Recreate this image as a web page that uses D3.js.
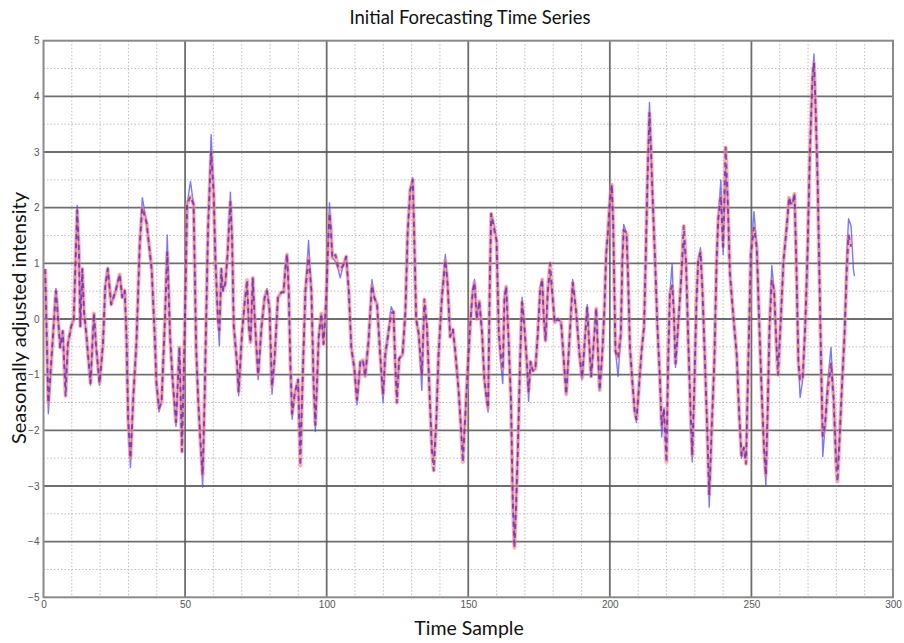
<!DOCTYPE html>
<html><head><meta charset="utf-8">
<script src="https://cdn.jsdelivr.net/npm/d3@7"></script>
<style>
html,body{margin:0;padding:0;background:#fff;}
svg{display:block;}
</style></head>
<body>
<svg id="chart" width="904" height="643"></svg>
<script>
const title = "Initial Forecasting Time Series";
const xLabel = "Time Sample";
const yLabel = "Seasonally adjusted intensity";
const xTicks = [0, 50, 100, 150, 200, 250, 300];
const yTicks = [-5, -4, -3, -2, -1, 0, 1, 2, 3, 4, 5];

const timeSample = [0.6,1.7,3.2,4.4,5.9,6.8,7.8,8.6,9.8,10.7,11.3,11.9,12.5,13.0,13.7,14.3,15.1,16.6,17.8,18.6,19.8,21.0,21.8,22.7,23.9,25.5,26.9,27.8,28.7,29.3,29.9,30.7,31.7,32.8,34.0,34.9,36.4,38.2,39.3,39.9,40.8,41.7,42.9,43.7,44.7,45.6,46.8,48.0,48.9,49.6,50.2,50.7,51.9,53.0,53.4,53.9,54.6,55.4,56.2,56.9,57.4,58.1,59.2,60.1,60.7,61.6,62.1,62.8,63.4,64.2,65.0,66.0,66.6,67.2,68.4,68.9,70.1,71.1,71.9,72.5,73.1,73.9,74.6,75.8,77.0,78.1,78.9,79.8,80.7,81.6,82.8,84.0,84.8,85.4,86.0,86.6,87.2,87.8,88.7,89.9,90.7,91.5,92.5,93.6,94.6,95.4,96.0,97.2,98.1,98.9,99.8,100.5,101.0,101.5,102.0,103.1,104.0,104.8,105.8,106.9,107.8,108.7,109.8,110.7,111.9,112.8,113.6,114.8,116.0,116.8,117.8,118.9,119.9,120.7,121.6,122.8,123.6,124.2,124.8,125.6,126.8,127.8,128.6,129.5,130.4,130.9,131.6,132.5,133.6,134.5,135.4,136.4,137.2,137.8,138.7,139.5,140.7,141.9,142.7,143.6,144.6,145.4,146.6,147.4,148.1,148.9,149.8,150.7,151.6,152.2,153.0,153.9,154.9,155.7,156.3,157.0,157.6,158.1,159.2,160.0,160.8,161.4,162.2,162.8,163.4,164.2,165.1,165.7,166.3,166.9,167.5,168.3,169.0,169.8,170.7,171.3,172.0,172.8,173.7,174.5,175.4,176.1,176.7,177.3,178.1,178.9,179.8,180.5,181.6,182.8,183.6,184.6,185.8,186.9,188.1,189.3,190.2,191.0,192.0,192.8,193.4,194.2,195.2,195.8,196.4,197.3,198.1,198.7,199.4,200.0,200.7,201.2,201.6,202.0,202.9,203.9,204.4,204.9,205.9,206.5,207.1,207.9,208.8,209.4,210.2,211.2,212.1,212.7,213.3,214.0,214.5,215.1,215.9,216.8,217.7,218.3,219.1,220.0,220.6,221.2,222.0,222.6,223.2,224.1,225.1,226.1,226.9,227.7,228.6,229.1,229.8,230.6,231.2,232.0,232.7,233.6,234.4,235.1,235.9,236.9,237.7,238.3,239.2,240.0,240.9,241.6,242.4,243.6,244.8,245.7,246.5,247.3,248.1,248.9,249.8,250.9,251.9,252.8,253.7,254.5,255.1,255.7,256.4,257.2,258.0,259.0,259.4,260.4,261.3,262.5,263.3,264.0,264.6,265.2,265.8,266.6,267.2,268.1,269.0,269.8,270.7,271.6,272.1,272.7,273.4,274.0,274.6,275.2,276.0,276.9,278.1,279.0,279.9,280.4,281.1,281.9,282.9,283.7,284.3,285.2,286.0,286.4];

const actual = [0.85,-1.70,-0.42,0.55,-0.51,-0.22,-1.20,-0.45,-0.13,0.0,1.03,2.04,1.22,-0.13,0.90,0.13,-0.26,-1.19,0.10,-0.51,-1.19,-0.45,0.58,0.93,0.26,0.51,0.80,0.39,0.51,-0.32,-1.80,-2.67,-1.41,-0.45,1.35,2.18,1.73,0.90,-0.32,-1.16,-1.67,-1.48,0.0,1.51,-0.32,-1.09,-1.93,-0.51,-2.20,-0.80,0.60,2.06,2.47,2.06,0.96,-0.51,-1.41,-2.18,-3.02,-1.41,-0.13,1.60,3.31,2.25,1.09,0.0,-0.48,0.90,0.51,0.64,1.16,2.28,1.41,-0.13,-0.83,-1.38,-0.26,0.32,0.61,-0.13,-0.42,0.74,0.0,-1.09,-0.13,0.39,0.55,0.19,-1.35,-0.71,0.39,0.48,0.48,0.90,1.16,0.51,-0.83,-1.80,-1.35,-1.09,-2.35,-1.09,0.51,1.41,0.51,-1.16,-2.02,-0.32,0.10,-0.45,0.32,1.30,2.09,1.60,1.10,1.03,0.90,0.74,0.96,1.12,0.51,-0.51,-0.90,-1.54,-0.77,-0.74,-1.03,-0.39,0.71,0.39,0.26,-0.64,-1.51,-0.64,-0.32,0.22,0.13,-0.77,-1.41,-0.71,-0.64,0.13,1.54,2.31,2.54,1.54,0.0,-0.26,-1.28,0.26,-0.13,-1.41,-2.38,-2.50,-1.86,-0.64,0.39,1.16,0.64,-0.32,-0.19,-0.58,-1.28,-1.93,-2.45,-1.80,-0.90,-0.10,0.51,0.71,0.0,0.32,-0.26,-1.09,-1.35,-1.67,0.60,1.89,1.67,1.41,-0.26,-0.77,-1.16,0.39,0.58,-0.32,-1.48,-3.21,-4.00,-3.34,-2.38,-0.77,0.39,-0.13,-0.77,-1.48,-0.77,-0.93,-0.90,-0.32,0.58,0.71,0.0,-0.39,0.51,0.80,0.39,-0.06,0.0,-0.06,-0.64,-1.35,-0.32,0.71,0.13,-0.64,-1.09,-0.51,0.26,-0.51,-1.03,-0.51,0.19,-0.58,-1.28,-0.64,0.19,1.16,1.60,2.12,2.41,1.67,0.51,-0.58,-1.03,-0.26,1.03,1.70,1.54,0.64,-0.51,-1.09,-1.67,-1.86,-1.28,-0.58,-0.13,1.16,2.50,3.89,3.08,2.18,1.16,-0.13,-1.09,-2.12,-1.61,-2.40,-0.77,0.45,1.00,0.13,-0.87,-0.13,0.64,1.40,1.03,-0.39,-1.80,-2.57,-1.28,0.32,1.03,1.28,0.51,-0.77,-1.99,-3.38,-2.06,-0.77,1.03,1.80,2.50,1.16,2.70,2.18,0.83,0.06,-0.64,-1.73,-2.50,-2.31,-2.50,-0.77,1.16,1.93,1.28,-0.13,-1.41,-2.38,-3.00,-1.73,-0.13,0.96,0.51,-0.64,-0.83,0.0,1.03,1.67,2.18,2.06,2.09,2.25,1.16,-0.77,-1.41,-1.09,-0.13,1.16,3.08,4.37,4.76,3.74,2.44,0.83,-0.77,-2.47,-1.93,-1.16,-0.51,-1.41,-2.44,-2.70,-2.18,-1.28,-0.26,1.16,1.80,1.67,0.90,0.77];

const forecast = [0.90,-1.50,-0.42,0.50,-0.51,-0.22,-1.38,-0.45,-0.13,0.0,1.03,1.95,1.22,-0.13,0.90,0.13,-0.26,-1.15,0.10,-0.51,-1.15,-0.45,0.58,0.90,0.26,0.51,0.80,0.39,0.51,-0.32,-1.80,-2.50,-1.41,-0.45,1.35,2.00,1.73,0.90,-0.32,-1.16,-1.60,-1.48,0.0,1.20,-0.32,-1.09,-1.85,-0.51,-2.38,-0.80,0.60,2.06,2.20,2.06,0.96,-0.51,-1.41,-2.18,-2.80,-1.41,-0.13,1.60,3.00,2.25,1.09,0.0,-0.20,0.90,0.51,0.64,1.16,2.10,1.41,-0.13,-0.83,-1.30,-0.26,0.32,0.70,-0.13,-0.42,0.74,0.0,-1.00,-0.13,0.39,0.50,0.19,-1.20,-0.71,0.39,0.48,0.48,0.90,1.16,0.51,-0.83,-1.70,-1.35,-1.09,-2.63,-1.09,0.51,1.10,0.51,-1.16,-1.90,-0.32,0.10,-0.45,0.32,1.30,1.90,1.60,1.10,1.15,0.95,0.90,0.96,1.12,0.51,-0.51,-0.90,-1.45,-0.77,-0.74,-1.03,-0.39,0.60,0.39,0.26,-0.64,-1.35,-0.64,-0.32,0.10,0.13,-0.77,-1.50,-0.71,-0.64,0.13,1.54,2.31,2.50,1.54,0.0,-0.26,-1.00,0.35,-0.13,-1.41,-2.38,-2.72,-1.86,-0.64,0.39,1.05,0.64,-0.32,-0.19,-0.58,-1.28,-1.93,-2.57,-1.80,-0.90,-0.10,0.51,0.65,0.0,0.32,-0.26,-1.09,-1.35,-1.60,0.60,1.89,1.60,1.41,-0.26,-0.60,-0.90,0.39,0.58,-0.32,-1.48,-3.21,-4.11,-3.34,-2.38,-0.77,0.30,-0.13,-0.77,-1.30,-0.77,-0.93,-0.90,-0.32,0.50,0.71,0.0,-0.39,0.51,1.00,0.39,-0.06,0.0,-0.06,-0.64,-1.35,-0.32,0.65,0.13,-0.64,-1.05,-0.51,0.20,-0.51,-1.03,-0.51,0.19,-0.58,-1.28,-0.64,0.19,1.16,1.60,2.12,2.41,1.67,0.51,-0.58,-0.70,-0.26,1.03,1.60,1.54,0.64,-0.51,-1.09,-1.67,-1.80,-1.28,-0.58,-0.13,1.16,2.50,3.70,3.08,2.18,1.16,-0.13,-1.09,-1.90,-1.61,-2.57,-0.77,0.45,0.60,0.13,-0.80,-0.13,0.64,1.67,1.03,-0.39,-1.80,-2.45,-1.28,0.32,1.03,1.20,0.51,-0.77,-1.99,-3.15,-2.06,-0.77,1.03,1.80,2.20,1.30,3.08,2.18,0.83,0.06,-0.64,-1.73,-2.45,-2.31,-2.60,-0.77,1.16,1.64,1.28,-0.13,-1.41,-2.38,-2.80,-1.73,-0.13,0.70,0.51,-0.64,-1.00,0.0,1.03,1.67,2.18,2.06,2.09,2.25,1.16,-0.77,-1.10,-1.05,-0.13,1.16,3.08,4.37,4.60,3.74,2.44,0.83,-0.77,-2.10,-1.90,-1.30,-0.80,-1.41,-2.60,-2.92,-2.18,-1.28,-0.26,0.90,1.50,1.30,null,null];

const W = 904, H = 643;
const m = {left: 43.5, right: 893, top: 40.7, bottom: 597.3};
const svg = d3.select("#chart");
const x = d3.scaleLinear().domain([0, 300]).range([m.left, m.right]);
const y = d3.scaleLinear().domain([-5, 5]).range([m.bottom, m.top]);

// minor dotted grid
const minorX = d3.range(10, 300, 10).filter(v => v % 50 !== 0);
const minorY = d3.range(-4.5, 5, 1);
const g = svg.append("g");
g.selectAll(".mx").data(minorX).join("line")
  .attr("x1", d => x(d)).attr("x2", d => x(d))
  .attr("y1", m.top).attr("y2", m.bottom)
  .attr("stroke", "#bdbdbd").attr("stroke-width", 1).attr("stroke-dasharray", "1.5,2");
g.selectAll(".my").data(minorY).join("line")
  .attr("y1", d => y(d)).attr("y2", d => y(d))
  .attr("x1", m.left).attr("x2", m.right)
  .attr("stroke", "#bdbdbd").attr("stroke-width", 1).attr("stroke-dasharray", "1.5,2");
// major grid
g.selectAll(".Mx").data(xTicks.slice(1, -1)).join("line")
  .attr("x1", d => x(d)).attr("x2", d => x(d))
  .attr("y1", m.top).attr("y2", m.bottom)
  .attr("stroke", "#555").attr("stroke-opacity", 0.85).attr("stroke-width", 1.8);
g.selectAll(".My").data(yTicks.slice(1, -1)).join("line")
  .attr("y1", d => y(d)).attr("y2", d => y(d))
  .attr("x1", m.left).attr("x2", m.right)
  .attr("stroke", "#555").attr("stroke-opacity", 0.85).attr("stroke-width", 1.8);

// frame
svg.append("rect").attr("x", m.left).attr("y", m.top)
  .attr("width", m.right - m.left).attr("height", m.bottom - m.top)
  .attr("fill", "none").attr("stroke", "#8a8a8a").attr("stroke-width", 2);

// axes
const xAxis = svg.append("g").attr("transform", `translate(0,${m.bottom})`)
  .call(d3.axisBottom(x).tickValues(xTicks).tickSize(0).tickPadding(4));
const yAxis = svg.append("g").attr("transform", `translate(${m.left},0)`)
  .call(d3.axisLeft(y).tickValues(yTicks).tickSize(0).tickPadding(4));
[xAxis, yAxis].forEach(a => {
  a.select(".domain").remove();
  a.selectAll("text").attr("font-family", "'Liberation Sans Narrow', 'Liberation Sans', Arial, sans-serif")
    .attr("font-size", 10).attr("fill", "#555");
});

const pts = timeSample.map((t, i) => ({t, a: actual[i], f: forecast[i]}));
const lineA = d3.line().x(d => x(d.t)).y(d => y(d.a));
const lineF = d3.line().defined(d => d.f !== null).x(d => x(d.t)).y(d => y(d.f));

const plot = svg.append("g");
plot.append("path").datum(pts).attr("d", lineA)
  .attr("fill", "none").attr("stroke", "#4a4aff").attr("stroke-opacity", 0.75)
  .attr("stroke-width", 1.4).attr("stroke-linejoin", "round");
plot.append("path").datum(pts).attr("d", lineF)
  .attr("fill", "none").attr("stroke", "#ff7f7f").attr("stroke-opacity", 0.6)
  .attr("stroke-width", 4).attr("stroke-linejoin", "round");
plot.append("path").datum(pts).attr("d", lineF)
  .attr("fill", "none").attr("stroke", "#5a22b8").attr("stroke-opacity", 0.7)
  .attr("stroke-width", 2).attr("stroke-dasharray", "5,4").attr("stroke-linejoin", "round");

// titles
const fontF = "Lato, 'Open Sans', sans-serif";
svg.append("text").attr("x", 470).attr("y", 24).attr("text-anchor", "middle")
  .attr("font-family", fontF).attr("font-size", 18.5).attr("fill", "#111").text(title);
svg.append("text").attr("x", 469).attr("y", 635).attr("text-anchor", "middle")
  .attr("font-family", fontF).attr("font-size", 19.5).attr("fill", "#111").text(xLabel);
svg.append("text").attr("transform", "translate(26,318) rotate(-90)").attr("text-anchor", "middle")
  .attr("font-family", fontF).attr("font-size", 20).attr("fill", "#111").text(yLabel);
</script>
</body></html>
